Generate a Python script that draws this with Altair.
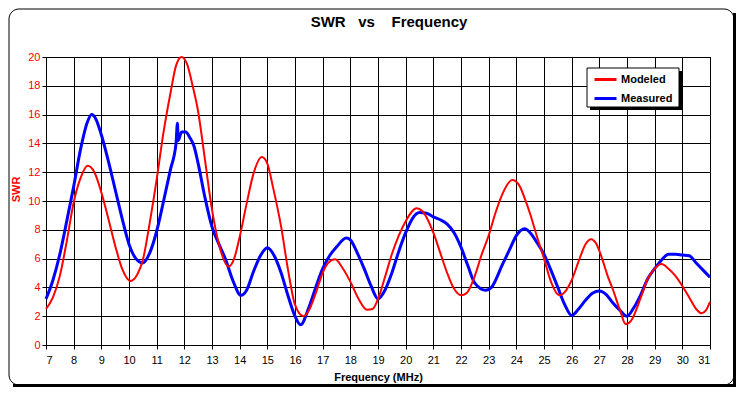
import altair as alt
import pandas as pd

FONT = "Liberation Sans"

title_text = "SWR\u00a0\u00a0\u00a0vs\u00a0\u00a0\u00a0\u00a0Frequency"
x_title = "Frequency (MHz)"
y_title = "SWR"
x_ticks = list(range(7, 32))
y_ticks = list(range(0, 21, 2))
series_names = ["Modeled", "Measured"]
series_colors = ["#ff0000", "#0000ff"]

modeled_freq = [7.0, 7.25, 7.5, 7.75, 8.0, 8.25, 8.5, 8.75, 9.0, 9.25, 9.5, 9.75, 10.05, 10.3,
                 10.5, 10.75, 11.0, 11.25, 11.5, 11.7, 11.9, 12.1, 12.3, 12.5, 12.75, 13.0,
                 13.25, 13.6, 13.8, 14.0, 14.25, 14.5, 14.8, 15.0, 15.2, 15.5, 15.75, 16.0,
                 16.3, 16.5, 16.75, 17.0, 17.2, 17.45, 17.7, 18.0, 18.3, 18.6, 18.8, 19.0,
                 19.25, 19.5, 19.75, 20.0, 20.4, 20.6, 21.0, 21.25, 21.5, 21.75, 22.0, 22.2,
                 22.5, 22.75, 23.0, 23.25, 23.5, 23.85, 24.1, 24.3, 24.5, 24.75, 25.0, 25.25,
                 25.55, 25.8, 26.0, 26.25, 26.5, 26.7, 26.9, 27.1, 27.3, 27.5, 27.75, 27.95,
                 28.15, 28.5, 28.75, 29.0, 29.25, 29.5, 29.75, 30.0, 30.25, 30.5, 30.7, 30.85, 31.0]
modeled_swr = [2.5, 3.3, 4.8, 7.2, 9.9, 11.6, 12.45, 12.0, 10.6, 8.8, 6.9, 5.3, 4.45, 4.9,
               5.9, 8.5, 11.5, 14.8, 17.5, 19.4, 20.0, 19.5, 18.0, 16.2, 12.8, 9.4,
               7.0, 5.45, 6.0, 7.5, 9.8, 11.9, 13.05, 12.6, 11.0, 8.2, 5.2, 2.8,
               2.0, 2.4, 3.6, 5.0, 5.7, 5.95, 5.4, 4.4, 3.2, 2.45, 2.5, 3.2,
               4.7, 6.3, 7.6, 8.6, 9.5, 9.3, 7.8, 6.4, 5.0, 3.9, 3.45, 3.6,
               4.8, 6.3, 7.6, 9.2, 10.5, 11.45, 11.1, 10.2, 9.1, 7.5, 6.0, 4.4,
               3.45, 3.8, 4.5, 5.8, 7.0, 7.35, 7.0, 6.0, 4.8, 3.8, 2.4, 1.45,
               1.7, 3.3, 4.6, 5.3, 5.62, 5.3, 4.8, 4.1, 3.3, 2.5, 2.2, 2.4, 3.0]

measured_freq = [7.0, 7.25, 7.5, 7.75, 8.0, 8.25, 8.5, 8.65, 8.8, 9.0, 9.25, 9.5, 9.75, 10.0,
                 10.25, 10.5, 10.75, 11.0, 11.25, 11.5, 11.7, 11.75, 11.78, 11.9, 12.05, 12.2,
                 12.35, 12.5, 12.75, 13.0, 13.25, 13.5, 13.75, 14.05, 14.25, 14.5, 14.75, 15.0,
                 15.25, 15.5, 15.75, 16.0, 16.2, 16.5, 16.75, 17.0, 17.25, 17.5, 17.85, 18.0,
                 18.25, 18.5, 18.75, 19.0, 19.25, 19.5, 19.75, 20.0, 20.25, 20.5, 20.75, 21.0,
                 21.25, 21.5, 21.75, 22.0, 22.25, 22.5, 22.9, 23.1, 23.5, 23.75, 24.0, 24.3,
                 24.5, 24.75, 25.0, 25.25, 25.5, 25.75, 26.0, 26.25, 26.5, 26.75, 27.0, 27.25,
                 27.5, 27.75, 28.0, 28.25, 28.5, 28.75, 29.0, 29.25, 29.5, 29.75, 30.0, 30.25,
                 30.5, 30.75, 31.0]
measured_swr = [3.2, 4.5, 6.3, 8.6, 11.0, 13.6, 15.5, 16.0, 15.7, 14.6, 12.8, 10.8, 8.8, 7.0,
                6.0, 5.7, 6.4, 7.9, 10.0, 12.2, 14.0, 15.4, 14.2, 14.8, 14.8, 14.4,
                13.8, 12.6, 10.2, 8.2, 7.0, 5.9, 4.5, 3.45, 3.8, 5.1, 6.2, 6.75,
                6.2, 5.0, 3.4, 2.0, 1.4, 2.6, 4.0, 5.3, 6.2, 6.8, 7.43, 7.3,
                6.4, 5.3, 4.1, 3.2, 3.8, 5.0, 6.5, 7.8, 8.8, 9.2, 9.15, 8.9,
                8.7, 8.4, 7.8, 6.8, 5.5, 4.3, 3.8, 4.0, 5.6, 6.6, 7.6, 8.08,
                7.8, 7.1, 6.3, 5.2, 4.0, 2.8, 2.05, 2.5, 3.1, 3.6, 3.75, 3.5,
                2.9, 2.4, 2.0, 2.6, 3.5, 4.6, 5.3, 5.9, 6.3, 6.3, 6.25, 6.2,
                5.7, 5.2, 4.7]

df_mod = pd.DataFrame({"freq": modeled_freq, "swr": modeled_swr, "series": "Modeled"})
df_meas = pd.DataFrame({"freq": measured_freq, "swr": measured_swr, "series": "Measured"})
df_one = pd.DataFrame({"t": [title_text]})

W, H = 664, 288

x_enc = alt.X("freq:Q", scale=alt.Scale(domain=[7, 31], nice=False, zero=False),
              axis=alt.Axis(values=x_ticks, title=x_title, labelColor="black",
                            labelPadding=5, titlePadding=6, format="d"))
y_enc = alt.Y("swr:Q", scale=alt.Scale(domain=[0, 20], nice=False),
              axis=alt.Axis(values=y_ticks, title=y_title, labelColor="#ff0000",
                            titleColor="#ff0000", labelPadding=2, titlePadding=6,
                            titleY=132, format="d"))
color_enc = alt.Color("series:N", scale=alt.Scale(domain=series_names, range=series_colors),
                      legend=alt.Legend(title=None, orient="none", legendX=547, legendY=10,
                                        padding=0, symbolType="stroke", symbolSize=484,
                                        symbolStrokeWidth=3, labelFont=FONT, labelFontSize=11,
                                        labelFontWeight="bold", labelColor="black",
                                        rowPadding=0, labelOffset=3))

shadow_r = alt.Chart(df_one).mark_rect(color="black").encode(
    x=alt.value(687), x2=alt.value(690), y=alt.value(-44), y2=alt.value(330))
shadow_b = alt.Chart(df_one).mark_rect(color="black").encode(
    x=alt.value(-33), x2=alt.value(690), y=alt.value(327), y2=alt.value(330))
frame = alt.Chart(df_one).mark_rect(fill="white", fillOpacity=0, stroke="black",
                                    strokeWidth=1, cornerRadius=10).encode(
    x=alt.value(-37), x2=alt.value(688), y=alt.value(-48), y2=alt.value(328))
title = alt.Chart(df_one).mark_text(font=FONT, fontSize=15, fontWeight="bold",
                                    color="black", align="center", baseline="middle").encode(
    x=alt.value(343), y=alt.value(-35), text="t:N")
legend_shadow = alt.Chart(df_one).mark_rect(color="black").encode(
    x=alt.value(544), x2=alt.value(636), y=alt.value(14), y2=alt.value(53))
legend_box = alt.Chart(df_one).mark_rect(color="white", stroke="black", strokeWidth=1).encode(
    x=alt.value(541), x2=alt.value(633), y=alt.value(11), y2=alt.value(50))

meas_line = alt.Chart(df_meas).mark_line(strokeWidth=3, interpolate="monotone").encode(
    x=x_enc, y=y_enc, color=color_enc)
mod_line = alt.Chart(df_mod).mark_line(strokeWidth=2, interpolate="monotone").encode(
    x=x_enc, y=y_enc, color=color_enc)

chart = alt.layer(shadow_r, shadow_b, frame, title, meas_line, mod_line,
                  legend_shadow, legend_box).properties(
    width=W, height=H,
    padding={"left": 38, "top": 49, "right": 27, "bottom": 42},
    autosize=alt.AutoSizeParams(type="none"),
    background="white",
).configure_view(stroke="black", strokeWidth=1).configure_axis(
    gridColor="black", gridOpacity=1, gridWidth=1, domainColor="black", tickColor="black",
    labelFont=FONT, titleFont=FONT, labelFontSize=11, titleFontSize=11,
    titleFontWeight="bold", tickSize=4,
)

chart.save("out.html", embed_options={"renderer": "svg", "actions": False})
